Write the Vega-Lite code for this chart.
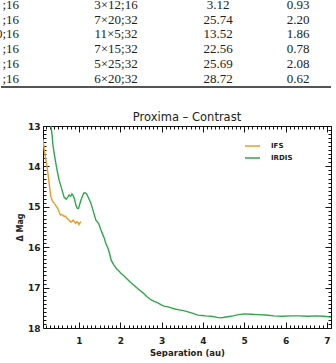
{
  "$schema": "https://vega.github.io/schema/vega-lite/v6.json",
  "padding": {"left": -5, "top": -2, "right": 0, "bottom": 0},
  "spacing": 21,
  "config": {"view": {"stroke": null}, "font": "DejaVu Sans"},
  "resolve": {"scale": {"color": "independent"}, "legend": {"color": "independent"}},
  "vconcat": [
    {
      "width": 288,
      "height": 90,
      "data": {"values": [
        {"row": 1, "col": 1, "text": ";16"}, {"row": 1, "col": 2, "text": "3×12;16"}, {"row": 1, "col": 3, "text": "3.12"}, {"row": 1, "col": 4, "text": "0.93"},
        {"row": 2, "col": 1, "text": ";16"}, {"row": 2, "col": 2, "text": "7×20;32"}, {"row": 2, "col": 3, "text": "25.74"}, {"row": 2, "col": 4, "text": "2.20"},
        {"row": 3, "col": 1, "text": "0;16"}, {"row": 3, "col": 2, "text": "11×5;32"}, {"row": 3, "col": 3, "text": "13.52"}, {"row": 3, "col": 4, "text": "1.86"},
        {"row": 4, "col": 1, "text": ";16"}, {"row": 4, "col": 2, "text": "7×15;32"}, {"row": 4, "col": 3, "text": "22.56"}, {"row": 4, "col": 4, "text": "0.78"},
        {"row": 5, "col": 1, "text": ";16"}, {"row": 5, "col": 2, "text": "5×25;32"}, {"row": 5, "col": 3, "text": "25.69"}, {"row": 5, "col": 4, "text": "2.08"},
        {"row": 6, "col": 1, "text": ";16"}, {"row": 6, "col": 2, "text": "6×20;32"}, {"row": 6, "col": 3, "text": "28.72"}, {"row": 6, "col": 4, "text": "0.62"}
      ]},
      "layer": [
        {
          "transform": [{"filter": "datum.col == 1"}],
          "mark": {"type": "text", "align": "right", "baseline": "middle", "font": "Liberation Serif", "fontSize": 13, "color": "#222"},
          "encoding": {
            "x": {"field": "col", "type": "quantitative", "scale": {"domain": [0, 1, 2, 3, 4, 5], "range": [-42, -24, 73, 175, 255, 288], "nice": false, "zero": false}, "axis": null},
            "y": {"field": "row", "type": "quantitative", "scale": {"domain": [0.729, 6.831], "reverse": true, "nice": false, "zero": false}, "axis": null},
            "text": {"field": "text"}
          }
        },
        {
          "transform": [{"filter": "datum.col > 1"}],
          "mark": {"type": "text", "align": "center", "baseline": "middle", "font": "Liberation Serif", "fontSize": 13, "color": "#222"},
          "encoding": {
            "x": {"field": "col", "type": "quantitative"},
            "y": {"field": "row", "type": "quantitative"},
            "text": {"field": "text"}
          }
        },
        {
          "mark": {"type": "rule", "color": "#555", "strokeWidth": 1.5},
          "encoding": {
            "x": {"datum": 0, "type": "quantitative"},
            "x2": {"datum": 5},
            "y": {"datum": 6.56, "type": "quantitative"}
          }
        }
      ]
    },
    {
      "width": 288,
      "height": 202,
      "title": {"text": "Proxima – Contrast", "fontSize": 11.5, "fontWeight": "normal", "font": "DejaVu Sans", "offset": -6, "color": "#222"},
      "data": {"values": [
        {"series": "IFS", "sep": 0.13, "mag": 13.32}, {"series": "IFS", "sep": 0.16, "mag": 13.59}, {"series": "IFS", "sep": 0.20, "mag": 13.84}, {"series": "IFS", "sep": 0.24, "mag": 14.09},
        {"series": "IFS", "sep": 0.28, "mag": 14.42}, {"series": "IFS", "sep": 0.32, "mag": 14.75}, {"series": "IFS", "sep": 0.36, "mag": 14.86}, {"series": "IFS", "sep": 0.40, "mag": 14.91},
        {"series": "IFS", "sep": 0.44, "mag": 14.97}, {"series": "IFS", "sep": 0.48, "mag": 15.03}, {"series": "IFS", "sep": 0.52, "mag": 15.12}, {"series": "IFS", "sep": 0.55, "mag": 15.20},
        {"series": "IFS", "sep": 0.58, "mag": 15.19}, {"series": "IFS", "sep": 0.61, "mag": 15.21}, {"series": "IFS", "sep": 0.64, "mag": 15.24}, {"series": "IFS", "sep": 0.67, "mag": 15.23},
        {"series": "IFS", "sep": 0.70, "mag": 15.27}, {"series": "IFS", "sep": 0.73, "mag": 15.30}, {"series": "IFS", "sep": 0.77, "mag": 15.34}, {"series": "IFS", "sep": 0.80, "mag": 15.38},
        {"series": "IFS", "sep": 0.83, "mag": 15.36}, {"series": "IFS", "sep": 0.86, "mag": 15.33}, {"series": "IFS", "sep": 0.89, "mag": 15.37}, {"series": "IFS", "sep": 0.92, "mag": 15.41},
        {"series": "IFS", "sep": 0.95, "mag": 15.37}, {"series": "IFS", "sep": 0.98, "mag": 15.39}, {"series": "IFS", "sep": 1.00, "mag": 15.44}, {"series": "IFS", "sep": 1.02, "mag": 15.40},
        {"series": "IFS", "sep": 1.05, "mag": 15.37},
        {"series": "IRDIS", "sep": 0.30, "mag": 12.80}, {"series": "IRDIS", "sep": 0.32, "mag": 13.00}, {"series": "IRDIS", "sep": 0.35, "mag": 13.22}, {"series": "IRDIS", "sep": 0.37, "mag": 13.47},
        {"series": "IRDIS", "sep": 0.40, "mag": 13.67}, {"series": "IRDIS", "sep": 0.44, "mag": 13.92}, {"series": "IRDIS", "sep": 0.47, "mag": 14.09}, {"series": "IRDIS", "sep": 0.52, "mag": 14.34},
        {"series": "IRDIS", "sep": 0.59, "mag": 14.58}, {"series": "IRDIS", "sep": 0.64, "mag": 14.76}, {"series": "IRDIS", "sep": 0.69, "mag": 14.81}, {"series": "IRDIS", "sep": 0.73, "mag": 14.76},
        {"series": "IRDIS", "sep": 0.76, "mag": 14.71}, {"series": "IRDIS", "sep": 0.80, "mag": 14.74}, {"series": "IRDIS", "sep": 0.83, "mag": 14.68}, {"series": "IRDIS", "sep": 0.86, "mag": 14.72},
        {"series": "IRDIS", "sep": 0.89, "mag": 14.80}, {"series": "IRDIS", "sep": 0.93, "mag": 14.97}, {"series": "IRDIS", "sep": 0.96, "mag": 15.04}, {"series": "IRDIS", "sep": 0.99, "mag": 15.04},
        {"series": "IRDIS", "sep": 1.02, "mag": 14.93}, {"series": "IRDIS", "sep": 1.05, "mag": 14.83}, {"series": "IRDIS", "sep": 1.09, "mag": 14.72}, {"series": "IRDIS", "sep": 1.12, "mag": 14.66},
        {"series": "IRDIS", "sep": 1.16, "mag": 14.66}, {"series": "IRDIS", "sep": 1.19, "mag": 14.69}, {"series": "IRDIS", "sep": 1.24, "mag": 14.80}, {"series": "IRDIS", "sep": 1.29, "mag": 14.91},
        {"series": "IRDIS", "sep": 1.35, "mag": 15.12}, {"series": "IRDIS", "sep": 1.41, "mag": 15.33}, {"series": "IRDIS", "sep": 1.45, "mag": 15.38}, {"series": "IRDIS", "sep": 1.48, "mag": 15.42},
        {"series": "IRDIS", "sep": 1.53, "mag": 15.57}, {"series": "IRDIS", "sep": 1.57, "mag": 15.67}, {"series": "IRDIS", "sep": 1.61, "mag": 15.77}, {"series": "IRDIS", "sep": 1.65, "mag": 15.90},
        {"series": "IRDIS", "sep": 1.70, "mag": 16.02}, {"series": "IRDIS", "sep": 1.74, "mag": 16.15}, {"series": "IRDIS", "sep": 1.78, "mag": 16.32}, {"series": "IRDIS", "sep": 1.84, "mag": 16.43},
        {"series": "IRDIS", "sep": 1.90, "mag": 16.52}, {"series": "IRDIS", "sep": 1.96, "mag": 16.58}, {"series": "IRDIS", "sep": 2.02, "mag": 16.65}, {"series": "IRDIS", "sep": 2.08, "mag": 16.70},
        {"series": "IRDIS", "sep": 2.14, "mag": 16.76}, {"series": "IRDIS", "sep": 2.24, "mag": 16.86}, {"series": "IRDIS", "sep": 2.33, "mag": 16.94}, {"series": "IRDIS", "sep": 2.44, "mag": 17.04},
        {"series": "IRDIS", "sep": 2.55, "mag": 17.13}, {"series": "IRDIS", "sep": 2.64, "mag": 17.22}, {"series": "IRDIS", "sep": 2.74, "mag": 17.30}, {"series": "IRDIS", "sep": 2.82, "mag": 17.34},
        {"series": "IRDIS", "sep": 2.91, "mag": 17.38}, {"series": "IRDIS", "sep": 2.98, "mag": 17.42}, {"series": "IRDIS", "sep": 3.06, "mag": 17.46}, {"series": "IRDIS", "sep": 3.14, "mag": 17.47},
        {"series": "IRDIS", "sep": 3.23, "mag": 17.50}, {"series": "IRDIS", "sep": 3.32, "mag": 17.53}, {"series": "IRDIS", "sep": 3.42, "mag": 17.55}, {"series": "IRDIS", "sep": 3.53, "mag": 17.57},
        {"series": "IRDIS", "sep": 3.64, "mag": 17.60}, {"series": "IRDIS", "sep": 3.76, "mag": 17.64}, {"series": "IRDIS", "sep": 3.88, "mag": 17.68}, {"series": "IRDIS", "sep": 3.98, "mag": 17.69},
        {"series": "IRDIS", "sep": 4.07, "mag": 17.70}, {"series": "IRDIS", "sep": 4.20, "mag": 17.71}, {"series": "IRDIS", "sep": 4.32, "mag": 17.73}, {"series": "IRDIS", "sep": 4.40, "mag": 17.75},
        {"series": "IRDIS", "sep": 4.49, "mag": 17.74}, {"series": "IRDIS", "sep": 4.60, "mag": 17.72}, {"series": "IRDIS", "sep": 4.73, "mag": 17.70}, {"series": "IRDIS", "sep": 4.86, "mag": 17.67},
        {"series": "IRDIS", "sep": 5.00, "mag": 17.65}, {"series": "IRDIS", "sep": 5.16, "mag": 17.66}, {"series": "IRDIS", "sep": 5.33, "mag": 17.67}, {"series": "IRDIS", "sep": 5.52, "mag": 17.68},
        {"series": "IRDIS", "sep": 5.72, "mag": 17.70}, {"series": "IRDIS", "sep": 5.92, "mag": 17.71}, {"series": "IRDIS", "sep": 6.13, "mag": 17.70}, {"series": "IRDIS", "sep": 6.33, "mag": 17.70},
        {"series": "IRDIS", "sep": 6.55, "mag": 17.71}, {"series": "IRDIS", "sep": 6.74, "mag": 17.70}, {"series": "IRDIS", "sep": 6.93, "mag": 17.71}, {"series": "IRDIS", "sep": 7.10, "mag": 17.73}
      ]},
      "layer": [
        {
          "mark": {"type": "line", "strokeWidth": 1.4, "clip": true},
          "encoding": {
            "x": {
              "field": "sep", "type": "quantitative",
              "scale": {"domain": [0.13, 7.1], "nice": false, "zero": false},
              "axis": {
                "orient": "bottom", "title": "Separation (au)", "grid": false,
                "tickCount": 70, "labelOverlap": false, "labelFlush": false,
                "labelExpr": "abs(datum.value - round(datum.value)) < 0.001 ? format(datum.value, '.0f') : ''",
                "tickSize": {"condition": {"test": "abs(datum.value - round(datum.value)) < 0.001", "value": -6}, "value": -3},
                "labelPadding": 14, "labelFontSize": 9, "labelFontWeight": "bold", "labelColor": "#222", "labelFont": "DejaVu Sans",
                "titleFontSize": 8.5, "titleFontWeight": "bold", "titleColor": "#222", "titlePadding": 0, "titleFont": "DejaVu Sans",
                "domainColor": "#111", "tickColor": "#111"
              }
            },
            "y": {
              "field": "mag", "type": "quantitative",
              "scale": {"domain": [13, 18], "reverse": true, "nice": false, "zero": false},
              "axis": {
                "orient": "left", "title": "Δ Mag", "grid": false,
                "tickCount": 50, "labelOverlap": false, "labelFlush": false,
                "labelExpr": "abs(datum.value - round(datum.value)) < 0.001 ? format(datum.value, '.0f') : ''",
                "tickSize": {"condition": {"test": "abs(datum.value - round(datum.value)) < 0.001", "value": -6}, "value": -3},
                "labelPadding": 9, "labelFontSize": 9, "labelFontWeight": "bold", "labelColor": "#222", "labelFont": "DejaVu Sans",
                "titleFontSize": 8, "titleFontWeight": "bold", "titleColor": "#222", "titlePadding": 3, "titleFont": "DejaVu Sans",
                "domainColor": "#111", "tickColor": "#111"
              }
            },
            "color": {
              "field": "series", "type": "nominal",
              "scale": {"domain": ["IFS", "IRDIS"], "range": ["#E89B2C", "#2EA84A"]},
              "legend": {
                "orient": "none", "legendX": 201, "legendY": 11.5, "title": null, "padding": 0,
                "symbolType": "stroke", "symbolSize": 225, "symbolStrokeWidth": 1.5,
                "labelFontSize": 7, "labelFont": "DejaVu Sans", "labelFontWeight": "bold", "labelColor": "#222",
                "labelOffset": 10, "rowPadding": -2
              }
            }
          }
        },
        {
          "mark": {"type": "line", "opacity": 0},
          "encoding": {
            "x": {
              "field": "sep", "type": "quantitative",
              "axis": {
                "orient": "top", "title": null, "labels": false, "grid": false, "tickCount": 70,
                "minExtent": 0, "maxExtent": 0,
                "tickSize": {"condition": {"test": "abs(datum.value - round(datum.value)) < 0.001", "value": -6}, "value": -3},
                "domainColor": "#111", "tickColor": "#111"
              }
            },
            "y": {
              "field": "mag", "type": "quantitative",
              "axis": {
                "orient": "right", "title": null, "labels": false, "grid": false, "tickCount": 50,
                "minExtent": 0, "maxExtent": 0,
                "tickSize": {"condition": {"test": "abs(datum.value - round(datum.value)) < 0.001", "value": -6}, "value": -3},
                "domainColor": "#111", "tickColor": "#111"
              }
            },
            "detail": {"field": "series"}
          }
        }
      ],
      "resolve": {"axis": {"x": "independent", "y": "independent"}}
    }
  ]
}
